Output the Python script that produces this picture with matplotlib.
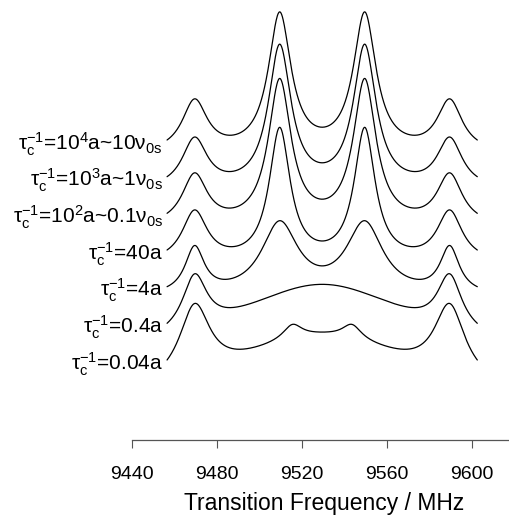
import numpy as np
import matplotlib
matplotlib.use('Agg')
import matplotlib.pyplot as plt

plt.rcParams['font.family'] = ['Liberation Sans', 'DejaVu Sans']
plt.rcParams['mathtext.fontset'] = 'custom'
plt.rcParams['mathtext.rm'] = 'Liberation Sans'
plt.rcParams['mathtext.it'] = 'Liberation Sans:italic'
plt.rcParams['mathtext.bf'] = 'Liberation Sans:bold'
plt.rcParams['mathtext.default'] = 'regular'

# ---- data ----
labels = [
    'τ$_c^{-1}$=10$^4$a~10ν$_{0s}$',
    'τ$_c^{-1}$=10$^3$a~1ν$_{0s}$',
    'τ$_c^{-1}$=10$^2$a~0.1ν$_{0s}$',
    'τ$_c^{-1}$=40a',
    'τ$_c^{-1}$=4a',
    'τ$_c^{-1}$=0.4a',
    'τ$_c^{-1}$=0.04a',
]
# vertical stacking offset of each spectrum (arbitrary intensity units)
offsets = [300.0, 263.3, 226.7, 190.0, 153.3, 116.7, 80.0]

# Lorentzian line components of each spectrum: centre (MHz), half width (MHz), amplitude
centers = [
    [9469.5, 9509.5, 9549.5, 9589.5],
    [9469.5, 9509.5, 9549.5, 9589.5],
    [9469.5, 9509.5, 9549.5, 9589.5],
    [9469.5, 9509.5, 9549.5, 9589.5],
    [9469.5, 9509.5, 9549.5, 9589.5],
    [9469.5, 9529.5, 9589.5],
    [9469.5, 9515.5, 9529.5, 9543.5, 9589.5],
]
widths = [
    [7.2, 6.5, 6.5, 7.2],
    [7.2, 6.5, 6.5, 7.2],
    [7.2, 6.5, 6.5, 7.2],
    [7.2, 6.0, 6.0, 7.2],
    [5.5, 10.5, 10.5, 5.5],
    [7.0, 54.0, 7.0],
    [8.75, 5.5, 58.0, 5.5, 8.75],
]
amps = [
    [51.5, 137.5, 137.5, 51.5],
    [49.5, 141.5, 141.5, 49.5],
    [50.5, 144.0, 144.0, 50.5],
    [50.5, 132.0, 132.0, 50.5],
    [46.0, 71.0, 71.0, 46.0],
    [54.5, 77.2, 54.5],
    [71.9, 14.5, 71.7, 14.5, 71.9],
]
freq_start, freq_end = 9456.5, 9602.5
xticks = [9440, 9480, 9520, 9560, 9600]
xlabel = 'Transition Frequency / MHz'

# ---- figure ----
W, H = 509, 515
fig = plt.figure(figsize=(W/100, H/100), dpi=100)
ax = fig.add_axes([132/W, 75/H, 377/W, 440/H])
ax.set_xlim(9440, 9440 + 377/2.125)
ax.set_ylim(0, 440)

f = np.linspace(freq_start, freq_end, 800)

def spectrum(x, cs, ws, As):
    x = np.atleast_1d(x)
    return sum(A/(1.0 + ((x - c)/w)**2) for c, w, A in zip(cs, ws, As))

for lab, off, cs, ws, As in zip(labels, offsets, centers, widths, amps):
    s = spectrum(f, cs, ws, As)
    s = s - s[0]
    ax.plot(f, off + s, color='black', lw=0.9, solid_capstyle='round')
    ax.text(9454.6, off - 10, lab, ha='right', va='baseline', fontsize=15)

for s in ['top', 'left', 'right']:
    ax.spines[s].set_visible(False)
ax.spines['bottom'].set_color('#555555')
ax.spines['bottom'].set_linewidth(0.9)
ax.set_yticks([])
ax.set_xticks(xticks)
ax.tick_params(axis='x', direction='out', length=5.8, width=0.8,
               color='#555555', labelsize=14, pad=13, labelcolor='black')

fig.text(324/W, (H - 510)/H, xlabel, ha='center', va='baseline', fontsize=16.5)

fig.savefig('out.png', dpi=100)
